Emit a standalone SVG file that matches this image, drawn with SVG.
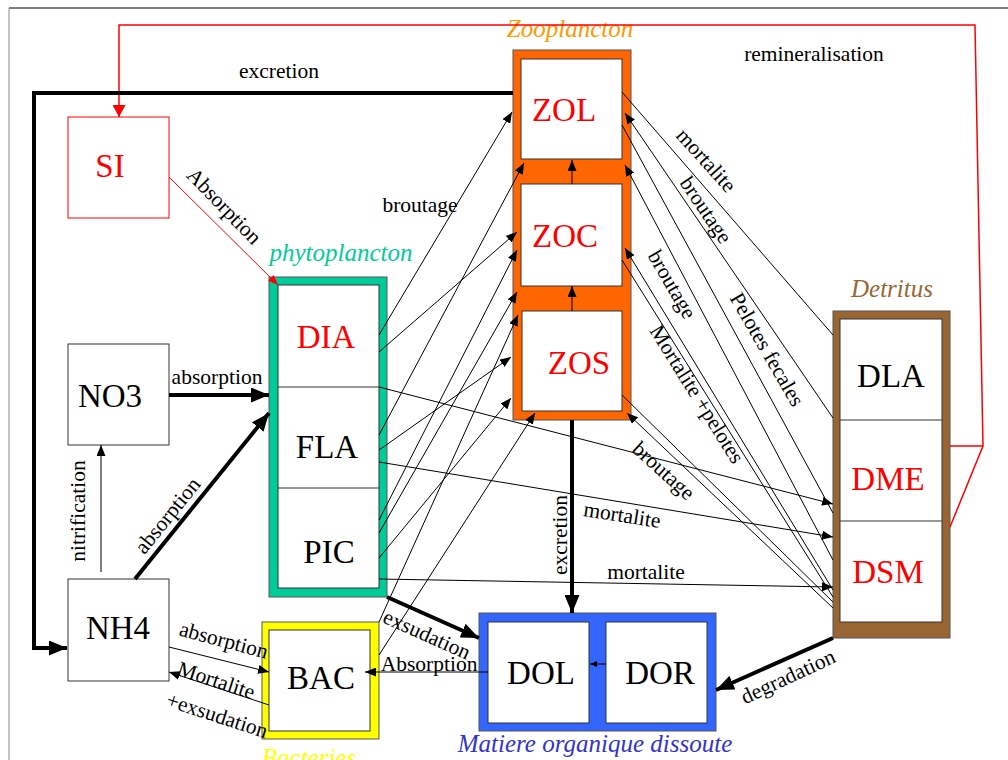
<svg xmlns="http://www.w3.org/2000/svg" width="1008" height="760" viewBox="0 0 1008 760">
<style>
text{font-family:"Liberation Serif","Times New Roman",serif;}
.n{font-size:33px;text-anchor:middle;fill:#000}
.r{fill:#ff0000}
.l{font-size:21.5px;text-anchor:middle;fill:#000}
.g{font-size:25px;font-style:italic;text-anchor:middle}
.box{fill:#fff;stroke:#333;stroke-width:1}
.frame{stroke:#555;stroke-width:1}
.thin{fill:none;stroke:#000;stroke-width:1}
.thick{fill:none;stroke:#000;stroke-width:4}
.red{fill:none;stroke:#ff0000;stroke-width:1.5}
</style>
<defs>
<marker id="a" markerUnits="userSpaceOnUse" markerWidth="11" markerHeight="9" refX="11" refY="4.5" orient="auto"><path d="M0,0 L11,4.5 L0,9 z" fill="#000"/></marker>
<marker id="s" markerUnits="userSpaceOnUse" markerWidth="7" markerHeight="6" refX="7" refY="3" orient="auto"><path d="M0,0 L7,3 L0,6 z" fill="#000"/></marker>
<marker id="A" markerUnits="userSpaceOnUse" markerWidth="18" markerHeight="15" refX="18" refY="7.5" orient="auto"><path d="M0,0 L18,7.5 L0,15 z" fill="#000"/></marker>
<marker id="R" markerUnits="userSpaceOnUse" markerWidth="12" markerHeight="13" refX="12" refY="6.5" orient="auto"><path d="M0,0 L12,6.5 L0,13 z" fill="#ff0000"/></marker>
<marker id="r" markerUnits="userSpaceOnUse" markerWidth="10" markerHeight="8" refX="10" refY="4" orient="auto"><path d="M0,0 L10,4 L0,8 z" fill="#ff0000"/></marker>
</defs>
<rect width="1008" height="760" fill="#fff"/>
<line x1="9" y1="8" x2="1008" y2="8" stroke="#000" stroke-width="1"/>
<line x1="9" y1="8" x2="9" y2="760" stroke="#888" stroke-width="1"/>

<g id="SI"><rect class="box" x="68" y="117" width="101" height="101" style="stroke:#ff0000"/><text class="n r" x="110" y="177">SI</text></g>
<g id="NO3"><rect class="box" x="68" y="344" width="101" height="101"/><text class="n" x="110" y="407">NO3</text></g>
<g id="NH4"><rect class="box" x="68" y="579" width="101" height="102"/><text class="n" x="118" y="639">NH4</text></g>

<g id="phytoplancton">
<rect x="269" y="277" width="118" height="320" fill="#00cc99" class="frame"/>
<rect class="box" x="278" y="285" width="101" height="303"/>
<line x1="278" y1="387" x2="379" y2="387" stroke="#333"/>
<line x1="278" y1="488" x2="379" y2="488" stroke="#333"/>
<text class="g" x="341" y="261" fill="#00cc99">phytoplancton</text>
<g id="DIA"><text class="n r" x="326" y="348">DIA</text></g>
<g id="FLA"><text class="n" x="327" y="458">FLA</text></g>
<g id="PIC"><text class="n" x="329" y="563">PIC</text></g>
</g>

<g id="BAC">
<rect x="262" y="622" width="117" height="117" fill="#ffff00" class="frame"/>
<rect class="box" x="269" y="630" width="101" height="101"/>
<text class="n" x="321" y="689">BAC</text>
<text class="g" x="309" y="766" fill="#ffff00">Bacteries</text>
</g>

<g id="zooplancton">
<rect x="513" y="50" width="118" height="370" fill="#ff6600" class="frame"/>
<text class="g" x="570" y="37" fill="#ff9900">Zooplancton</text>
<g id="ZOL"><rect class="box" x="521" y="59" width="101" height="100"/><text class="n r" x="564" y="121">ZOL</text></g>
<g id="ZOC"><rect class="box" x="521" y="184" width="101" height="102"/><text class="n r" x="565" y="247">ZOC</text></g>
<g id="ZOS"><rect class="box" x="522" y="311" width="100" height="100"/><text class="n r" x="579" y="374">ZOS</text></g>
</g>

<g id="detritus">
<rect x="833" y="311" width="117" height="327" fill="#996633" class="frame"/>
<rect class="box" x="840" y="319" width="102" height="303"/>
<line x1="840" y1="420" x2="942" y2="420" stroke="#333"/>
<line x1="840" y1="521" x2="942" y2="521" stroke="#333"/>
<text class="g" x="892" y="297" fill="#996633">Detritus</text>
<g id="DLA"><text class="n" x="891" y="387">DLA</text></g>
<g id="DME"><text class="n r" x="888" y="490">DME</text></g>
<g id="DSM"><text class="n r" x="888" y="583">DSM</text></g>
</g>

<g id="MOD">
<rect x="479" y="613" width="237" height="118" fill="#3366ff" class="frame"/>
<text class="g" x="595" y="752" fill="#3333cc">Matiere organique dissoute</text>
<g id="DOL"><rect class="box" x="488" y="622" width="101" height="101"/><text class="n" x="541" y="684">DOL</text></g>
<g id="DOR"><rect class="box" x="606" y="622" width="101" height="101"/><text class="n" x="660" y="684">DOR</text></g>
</g>

<g id="connectors">
<!-- red remineralisation -->
<polyline class="red" points="950,527 983,446 975,25 119,25 119,117" marker-end="url(#R)"/>
<line class="red" x1="950" y1="446" x2="983" y2="446"/>
<line x1="169" y1="177" x2="278" y2="285" stroke="#ff0000" stroke-width="1" marker-end="url(#r)"/>
<!-- thick -->
<polyline class="thick" points="513,93 34,93 34,648 67,648" marker-end="url(#A)"/>
<line class="thick" x1="169" y1="395" x2="269" y2="395" marker-end="url(#A)"/>
<line class="thick" x1="135" y1="579" x2="269" y2="413" marker-end="url(#A)"/>
<line class="thick" x1="387" y1="597" x2="479" y2="638" marker-end="url(#A)"/>
<line class="thick" x1="572" y1="420" x2="572" y2="613" marker-end="url(#A)"/>
<line class="thick" x1="833" y1="638" x2="716" y2="690" marker-end="url(#A)"/>
<!-- thin nutrients / bacteria -->
<line class="thin" x1="101" y1="572" x2="101" y2="445" marker-end="url(#a)"/>
<line class="thin" x1="169" y1="647" x2="269" y2="672" marker-end="url(#a)"/>
<line class="thin" x1="269" y1="705" x2="169" y2="672" marker-end="url(#a)"/>
<line class="thin" x1="488" y1="672" x2="365" y2="672" marker-end="url(#a)"/>
<line class="thin" x1="606" y1="664" x2="590" y2="664" marker-end="url(#s)"/>
<line class="thin" x1="572" y1="311" x2="572" y2="286" marker-end="url(#a)"/>
<line class="thin" x1="572" y1="184" x2="572" y2="160" marker-end="url(#a)"/>
<!-- broutage phyto/bac -> zoo -->
<line class="thin" x1="379" y1="335" x2="512" y2="112" marker-end="url(#a)"/>
<line class="thin" x1="379" y1="352" x2="517" y2="232" marker-end="url(#a)"/>
<line class="thin" x1="379" y1="435" x2="524" y2="163" marker-end="url(#a)"/>
<line class="thin" x1="379" y1="450" x2="511" y2="357" marker-end="url(#a)"/>
<line class="thin" x1="379" y1="520" x2="517" y2="250" marker-end="url(#a)"/>
<line class="thin" x1="379" y1="533" x2="517" y2="292" marker-end="url(#a)"/>
<line class="thin" x1="379" y1="558" x2="511" y2="398" marker-end="url(#a)"/>
<line class="thin" x1="379" y1="622" x2="518" y2="315" marker-end="url(#a)"/>
<line class="thin" x1="379" y1="655" x2="535" y2="413" marker-end="url(#a)"/>
<!-- phyto -> detritus -->
<line class="thin" x1="379" y1="387" x2="833" y2="504" marker-end="url(#a)"/>
<line class="thin" x1="379" y1="462" x2="833" y2="537" marker-end="url(#a)"/>
<line class="thin" x1="379" y1="579" x2="833" y2="587" marker-end="url(#a)"/>
<!-- zoo <-> detritus -->
<line class="thin" x1="622" y1="92" x2="833" y2="335"/>
<line class="thin" x1="833" y1="418" x2="625" y2="113" marker-end="url(#a)"/>
<line class="thin" x1="622" y1="125" x2="833" y2="513"/>
<line class="thin" x1="833" y1="560" x2="625" y2="165" marker-end="url(#a)"/>
<line class="thin" x1="833" y1="590" x2="625" y2="248" marker-end="url(#a)"/>
<line class="thin" x1="622" y1="260" x2="833" y2="597"/>
<line class="thin" x1="622" y1="395" x2="833" y2="602"/>
<line class="thin" x1="833" y1="608" x2="627" y2="413" marker-end="url(#a)"/>

<!-- labels -->
<text class="l" x="279" y="78">excretion</text>
<text class="l" x="814" y="61">remineralisation</text>
<text class="l" transform="translate(219,211) rotate(46)">Absorption</text>
<text class="l" x="420" y="212">broutage</text>
<text class="l" x="217" y="384">absorption</text>
<text class="l" transform="translate(85,511) rotate(-90)">nitrification</text>
<text class="l" transform="translate(173,520) rotate(-51)">absorption</text>
<text class="l" transform="translate(222,647) rotate(15)">absorption</text>
<text class="l" transform="translate(214,687) rotate(18)">Mortalite</text>
<text class="l" transform="translate(215,722) rotate(18)">+exsudation</text>
<text class="l" transform="translate(424,641) rotate(24)">exsudation</text>
<text class="l" x="429" y="671">Absorption</text>
<text class="l" transform="translate(567,535) rotate(-90)">excretion</text>
<text class="l" transform="translate(621,522) rotate(9)">mortalite</text>
<text class="l" x="646" y="579">mortalite</text>
<text class="l" transform="translate(659,476) rotate(42)">broutage</text>
<text class="l" transform="translate(691,398) rotate(58)">Mortalite +pelotes</text>
<text class="l" transform="translate(761,353) rotate(60)">Pelotes  fecales</text>
<text class="l" transform="translate(700,214) rotate(56)">broutage</text>
<text class="l" transform="translate(701,165) rotate(48)">mortalite</text>
<text class="l" transform="translate(666,288) rotate(60)">broutage</text>
<text class="l" transform="translate(791,683) rotate(-25)">degradation</text>
</g>
</svg>
